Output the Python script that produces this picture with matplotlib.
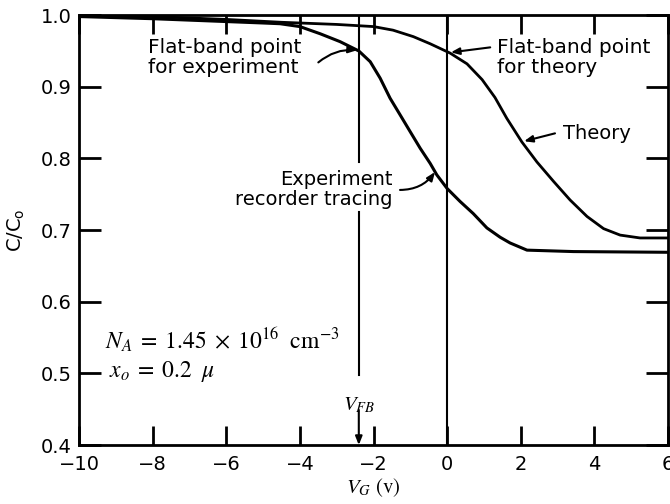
import numpy as np
import matplotlib.pyplot as plt

# C-V curve of an MOS capacitor: theory vs. recorder tracing

################################## DATA ##################################

theory_v = [-10, -8, -6, -4.5, -3, -2, -1.47, -0.92, -0.46, 0.08, 0.54, 0.95, 1.3, 1.62,
            2.03, 2.44, 2.89, 3.34, 3.8, 4.25, 4.7, 5.24, 6]
theory_c = [0.999, 0.998, 0.994, 0.990, 0.987, 0.984, 0.979, 0.970, 0.960, 0.947, 0.932,
            0.910, 0.885, 0.856, 0.823, 0.795, 0.768, 0.742, 0.719, 0.702, 0.693, 0.689,
            0.689]

exp_v = [-10, -8, -6, -5, -4.54, -4.0, -3.45, -2.91, -2.4, -2.09, -1.82, -1.55, -1.28,
         -1.0, -0.73, -0.46, -0.28, 0.0, 0.35, 0.71, 1.08, 1.44, 1.71, 2.17, 3.43, 6]
exp_c = [0.998, 0.995, 0.991, 0.989, 0.988, 0.984, 0.974, 0.963, 0.950, 0.935, 0.912,
         0.884, 0.861, 0.837, 0.814, 0.793, 0.777, 0.758, 0.740, 0.723, 0.703, 0.690,
         0.682, 0.672, 0.670, 0.669]

v_fb_exp = -2.4
v_fb_theory = 0.0

x_ticks = [-10, -8, -6, -4, -2, 0, 2, 4, 6]
y_ticks = [0.4, 0.5, 0.6, 0.7, 0.8, 0.9, 1.0]

################################## PLOT ##################################

plt.rcParams['font.family'] = 'DejaVu Sans'
plt.rcParams['mathtext.fontset'] = 'stix'

fig = plt.figure(figsize=(6.7, 5.04), dpi=100)
ax = fig.add_axes([0.118, 0.117, 0.879, 0.853])

ax.plot(theory_v, theory_c, 'k', lw=2, solid_joinstyle='round')
ax.plot(exp_v, exp_c, 'k', lw=2.2, solid_joinstyle='round')

# flat-band lines
ax.axvline(v_fb_theory, color='k', lw=1.5)
ax.plot([v_fb_exp, v_fb_exp], [1.0, 0.795], 'k', lw=1.5)
ax.plot([v_fb_exp, v_fb_exp], [0.725, 0.498], 'k', lw=1.5)

arrow = dict(arrowstyle='-|>,head_length=0.5,head_width=0.2', color='k', lw=1.5,
             shrinkA=0, shrinkB=0)

ax.text(v_fb_exp, 0.456, r'$V_{FB}$', ha='center', va='center', fontsize=15)
ax.annotate('', xy=(v_fb_exp, 0.4), xytext=(v_fb_exp, 0.449), arrowprops=arrow)

# labels with arrows
fs = 14
ax.text(-8.12, 0.941, 'Flat-band point\nfor experiment', ha='left', va='center',
        fontsize=14.5, linespacing=1.05)
ax.annotate('', xy=(v_fb_exp - 0.05, 0.951), xytext=(-3.5, 0.934),
            arrowprops=dict(arrow, connectionstyle='arc3,rad=-0.2'))

ax.text(1.36, 0.941, 'Flat-band point\nfor theory', ha='left', va='center',
        fontsize=14.5, linespacing=1.05)
ax.annotate('', xy=(0.1, 0.948), xytext=(1.17, 0.955), arrowprops=arrow)

ax.text(3.15, 0.835, 'Theory', ha='left', va='center', fontsize=fs)
ax.annotate('', xy=(2.09, 0.824), xytext=(2.93, 0.835), arrowprops=arrow)

ax.text(-1.49, 0.757, 'Experiment\nrecorder tracing', ha='right', va='center',
        fontsize=fs, linespacing=1.05)
ax.annotate('', xy=(-0.33, 0.781), xytext=(-1.28, 0.756),
            arrowprops=dict(arrow, connectionstyle='arc3,rad=0.25'))

ax.text(-9.3, 0.547, r'$N_A\; =\; 1.45\; \times\; 10^{16}\;\ \mathrm{cm}^{-3}$',
        ha='left', va='center', fontsize=17)
ax.text(-9.2, 0.502, r'$x_o\; =\; 0.2\;\ \mu$', ha='left', va='center', fontsize=17)

ax.set_xlim(-10, 6)
ax.set_ylim(0.4, 1.0)
ax.set_xticks(x_ticks)
ax.set_yticks(y_ticks)
ax.set_yticklabels(['%.1f' % y for y in y_ticks])

ax.tick_params(axis='both', direction='in', width=2, labelsize=14,
               top=True, right=True)
ax.tick_params(axis='x', length=14, pad=7)
ax.tick_params(axis='y', length=16, pad=5)
for s in ax.spines.values():
    s.set_linewidth(2)

ax.set_xlabel(r'$V_G\ \mathrm{(v)}$', fontsize=15, labelpad=2)
ax.set_ylabel(r'$\mathregular{C/C_o}$', fontsize=14, labelpad=10)

fig.savefig('out.png', dpi=100)
